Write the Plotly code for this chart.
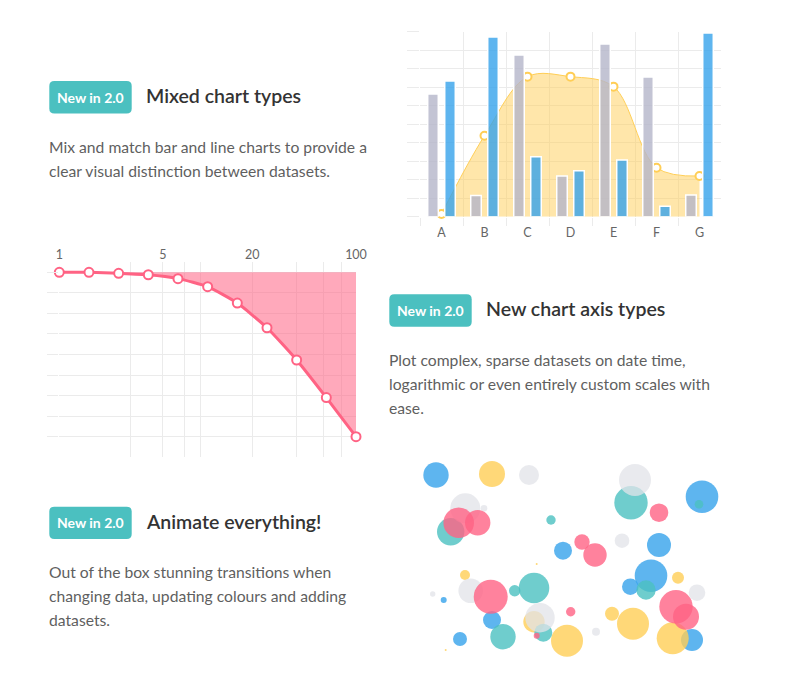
import plotly.graph_objects as go

W, H = 786, 675
FONT = "Lato, 'Open Sans', sans-serif"
GRID = "#ebebeb"
TICKC = "#666666"

# ---------------- Chart 1: mixed bar + line ----------------
categories = ["A", "B", "C", "D", "E", "F", "G"]
bar_grey = [66.3, 11.5, 87.4, 22.0, 93.3, 75.5, 11.7]
bar_blue = [73.3, 97.1, 32.4, 24.9, 30.6, 5.6, 99.3]
line_yellow = [1.5, 43.8, 75.7, 75.7, 70.3, 26.5, 22.0]

# ---------------- Chart 2: logarithmic axis ----------------
log_x = [1, 1.585, 2.512, 3.981, 6.310, 10, 15.85, 25.12, 39.81, 63.10, 100]
log_y = [0, 0, -0.5, -1.2, -3.1, -7, -15, -27, -42.7, -61, -80]
log_tickvals = [1, 3, 5, 7, 9, 20, 40, 60, 80, 100]
log_ticktext = ["1", "", "5", "", "", "20", "", "", "", "100"]
log_ygrid = [0, -10, -20, -30, -40, -50, -60, -70, -80]

# ---------------- Chart 3: bubbles ----------------
blue_x = [36, 163, 302, 259, 251, 230.3, 292, 92, 60, 43.7]
blue_y = [195, 119.3, 173.3, 125, 94.3, 83.3, 30, 50, 31, 70]
blue_r = [12.7, 9, 16.3, 12, 16.3, 8.3, 11, 9, 7, 3]

yellow_x = [92, 278, 233, 212, 272.7, 167, 134, 65, 136.7, 45.7]
yellow_y = [196, 92.3, 46.3, 56.3, 31.7, 29.3, 48.3, 95, 106, 20]
yellow_r = [13, 6, 16, 7, 16, 16, 10.7, 5, 1, 1]

teal_x = [50.7, 151, 231, 299, 246, 143.3, 134, 114.7, 103]
teal_y = [138.3, 150, 167.3, 165.7, 80, 37.3, 82, 79.3, 33.3]
teal_r = [13.7, 4.7, 16.7, 4.3, 9.7, 9, 15.3, 5.7, 12.7]

grey_x = [129, 65.3, 84, 222, 235, 297, 196, 140, 70.7, 32.7]
grey_y = [195, 161.7, 161.7, 129.3, 190, 77.3, 38.3, 52.3, 79.3, 76]
grey_r = [10, 15, 3.3, 7.3, 16, 8.3, 4, 14.7, 12.3, 2.7]

pink_x = [58.7, 77.7, 182, 195, 259, 276, 286, 170.7, 136.7, 90.7]
pink_y = [147.3, 147.3, 128, 115, 157.3, 63.3, 53.3, 58.3, 34.3, 73.3]
pink_r = [15.3, 12.7, 7.7, 11.7, 9.3, 16.7, 13, 4.7, 3, 17]

# ---------------- Text ----------------
badge_text = "New in 2.0"
titles = ["Mixed chart types", "New chart axis types", "Animate everything!"]
body_1 = ["Mix and match bar and line charts to provide a",
          "clear visual distinction between datasets."]
body_2 = ["Plot complex, sparse datasets on date time,",
          "logarithmic or even entirely custom scales with",
          "ease."]
body_3 = ["Out of the box stunning transitions when",
          "changing data, updating colours and adding",
          "datasets."]


def px(x):
    return x / W


def py(y):
    return 1 - y / H


def xd(a, b):
    return [a / W, b / W]


def yd(top, bottom):
    return [1 - bottom / H, 1 - top / H]


fig = go.Figure()

# Chart 1
fig.add_trace(go.Scatter(
    x=categories, y=line_yellow, mode="lines+markers",
    line=dict(color="rgb(255,206,86)", width=1, shape="spline", smoothing=1),
    fill="tozeroy", fillcolor="rgba(255,206,86,0.5)",
    marker=dict(size=8, color="white", line=dict(color="rgb(255,206,86)", width=2)),
    xaxis="x", yaxis="y", cliponaxis=False, zorder=0, showlegend=False))
fig.add_trace(go.Bar(
    x=categories, y=bar_grey, marker=dict(color="rgba(180,181,201,0.8)",
                                          line=dict(color="white", width=1.5)),
    xaxis="x", yaxis="y", zorder=1, showlegend=False))
fig.add_trace(go.Bar(
    x=categories, y=bar_blue, marker=dict(color="rgba(54,162,235,0.8)",
                                          line=dict(color="white", width=1.5)),
    xaxis="x", yaxis="y", zorder=1, showlegend=False))

# Chart 2
fig.add_trace(go.Scatter(
    x=log_x, y=log_y, mode="lines+markers",
    line=dict(color="rgb(255,99,132)", width=3, shape="spline", smoothing=0.5),
    fill="tozeroy", fillcolor="rgba(255,99,132,0.55)",
    marker=dict(size=9, color="white", line=dict(color="rgb(255,99,132)", width=2)),
    xaxis="x2", yaxis="y2", cliponaxis=False, showlegend=False))

# Chart 3
for bx, by, br, col in [
    (blue_x, blue_y, blue_r, "rgba(54,162,235,0.8)"),
    (yellow_x, yellow_y, yellow_r, "rgba(255,206,86,0.8)"),
    (teal_x, teal_y, teal_r, "rgba(75,192,192,0.8)"),
    (grey_x, grey_y, grey_r, "rgba(225,227,232,0.75)"),
    (pink_x, pink_y, pink_r, "rgba(255,99,132,0.8)"),
]:
    fig.add_trace(go.Scatter(
        x=bx, y=by, mode="markers",
        marker=dict(size=[2 * r for r in br], sizemode="diameter", color=col,
                    opacity=1, line=dict(width=0)),
        xaxis="x3", yaxis="y3", cliponaxis=False, showlegend=False))

# Badges and text
shapes = []
annotations = []


def rrect(x0, y0, x1, y1, r):
    pts = [
        ("M", [(x0 + r, y0)]), ("L", [(x1 - r, y0)]), ("Q", [(x1, y0), (x1, y0 + r)]),
        ("L", [(x1, y1 - r)]), ("Q", [(x1, y1), (x1 - r, y1)]), ("L", [(x0 + r, y1)]),
        ("Q", [(x0, y1), (x0, y1 - r)]), ("L", [(x0, y0 + r)]), ("Q", [(x0, y0), (x0 + r, y0)]),
    ]
    s = ""
    for cmd, ps in pts:
        s += cmd + " " + " ".join(f"{px(a):.5f},{py(b):.5f}" for a, b in ps) + " "
    return s + "Z"


blocks = [
    (49.3, 81.0, 146, 95.5, body_1, 147.0, titles[0]),
    (389.3, 294.3, 486, 308.8, body_2, 360.0, titles[1]),
    (49.3, 506.7, 146, 521.8, body_3, 571.5, titles[2]),
]
for bx0, by0, tx, ty, body, y_first, title in blocks:
    shapes.append(dict(type="path", xref="paper", yref="paper",
                       path=rrect(bx0, by0, bx0 + 82.4, by0 + 32.4, 5),
                       fillcolor="#4bc0c0", line=dict(width=0), layer="above"))
    annotations.append(dict(x=px(bx0 + 41.2), y=py(by0 + 16.2), xref="paper", yref="paper",
                            text="<b>" + badge_text + "</b>", showarrow=False,
                            xanchor="center", yanchor="middle",
                            font=dict(family=FONT, size=14, color="white")))
    annotations.append(dict(x=px(tx - 2), y=py(ty), xref="paper", yref="paper",
                            text=title, showarrow=False, xanchor="left", yanchor="middle",
                            font=dict(family=FONT, size=19.5, color="#333333", weight=600)))
    for i, line in enumerate(body):
        annotations.append(dict(x=px(bx0 - 2), y=py(y_first + 24.2 * i), xref="paper",
                                yref="paper", text=line, showarrow=False,
                                xanchor="left", yanchor="middle",
                                font=dict(family=FONT, size=15.7, color="#5f5f5f")))

fig.update_layout(
    width=W, height=H, autosize=False,
    margin=dict(l=0, r=0, t=0, b=0, pad=0, autoexpand=False),
    paper_bgcolor="white", plot_bgcolor="rgba(0,0,0,0)",
    font=dict(family=FONT), showlegend=False,
    barmode="group", bargap=0.209, bargroupgap=0.38,
    shapes=shapes, annotations=annotations,
    xaxis=dict(domain=xd(420, 721), anchor="y", type="category", range=[-0.5, 6.5],
               tickson="boundaries", ticks="outside", ticklen=8, tickcolor=GRID,
               ticklabelstandoff=4,
               showgrid=True, gridcolor=GRID, showline=True, linecolor="#e2e2e2",
               tickfont=dict(family=FONT, size=12.5, color=TICKC), automargin=False),
    yaxis=dict(domain=yd(31.7, 216.7), anchor="x", range=[0, 100], dtick=10,
               showticklabels=False, ticks="outside", ticklen=12, tickcolor=GRID,
               showgrid=True, gridcolor=GRID, showline=True, linecolor="#e2e2e2",
               zeroline=False, automargin=False),
    xaxis2=dict(domain=xd(59.3, 356), anchor="y2", type="log", range=[0, 2],
                tickvals=log_tickvals, ticktext=log_ticktext, side="top", ticks="",
                showgrid=True, gridcolor=GRID, zeroline=False, showline=False,
                tickfont=dict(family=FONT, size=12.5, color=TICKC), automargin=False),
    yaxis2=dict(domain=yd(262, 457), anchor="x2", range=[-89.9, 5], tickvals=log_ygrid,
                showticklabels=False, ticks="outside", ticklen=11, tickcolor=GRID,
                showgrid=True, gridcolor=GRID, zeroline=False, showline=True,
                mirror=True, linecolor=GRID, automargin=False),
    xaxis3=dict(domain=xd(400, 740), anchor="y3", range=[0, 340], visible=False,
                automargin=False),
    yaxis3=dict(domain=yd(450, 670), anchor="x3", range=[0, 220], visible=False,
                automargin=False),
)

fig.write_html("out.html", config={"displayModeBar": False},
               post_script="document.body.style.margin='0';document.body.style.overflow='hidden';")
